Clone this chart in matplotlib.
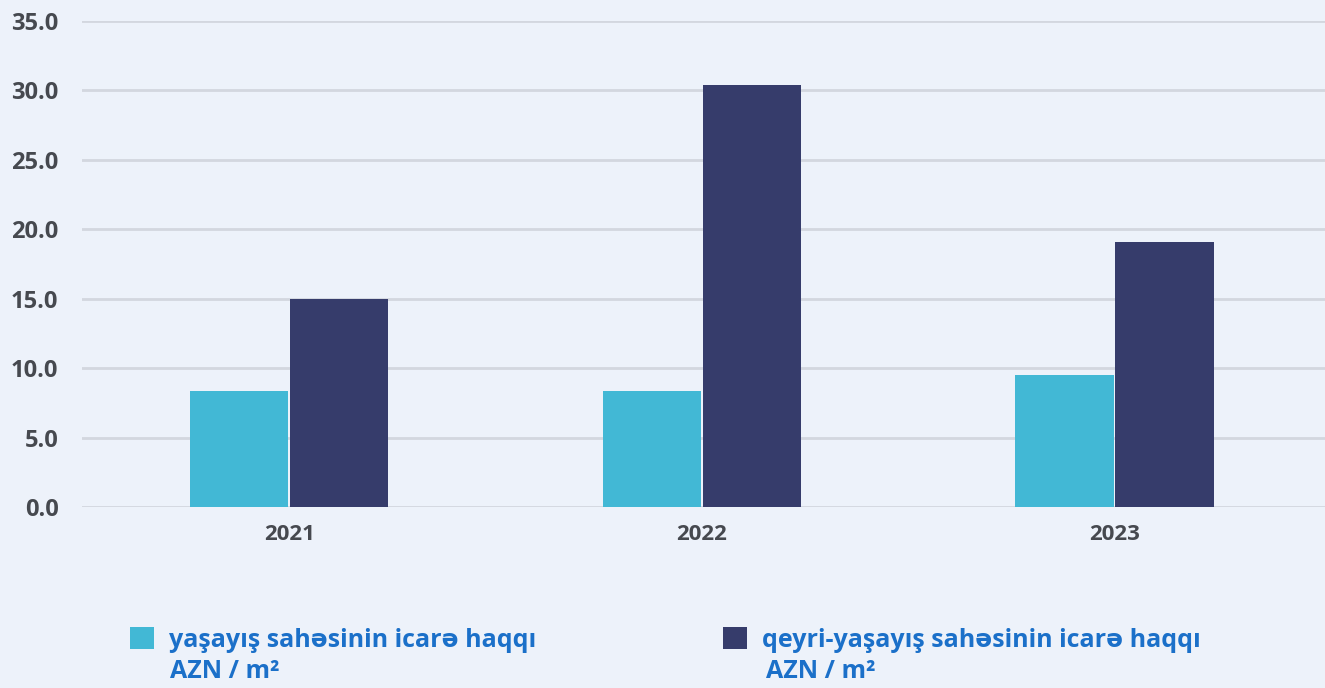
import matplotlib.pyplot as plt
import numpy as np

# data
years = ['2021', '2022', '2023']
residential = [8.35, 8.35, 9.5]
non_residential = [14.95, 30.4, 19.1]
yticks = [0, 5, 10, 15, 20, 25, 30, 35]
label_res = 'yaşayış sahəsinin icarə haqqı'
label_nonres = 'qeyri-yaşayış sahəsinin icarə haqqı'
unit = 'AZN / m²'

bg = '#edf2fa'
cyan = '#42b8d5'
navy = '#363c6b'
tick_col = '#46494f'
legend_col = '#1b70c9'

plt.rcParams['font.family'] = ['Open Sans', 'DejaVu Sans']

fig = plt.figure(figsize=(13.25, 6.88), dpi=100, facecolor=bg)
ax = fig.add_axes((82 / 1325, 1 - 507 / 688, 1 - 82 / 1325, (507 - 21) / 688))
ax.set_facecolor(bg)

x = np.arange(len(years))
w = 0.238
b1 = ax.bar(x - w / 2 - 0.002, residential, w, color=cyan, zorder=3)
b2 = ax.bar(x + w / 2 + 0.002, non_residential, w, color=navy, zorder=3)

ax.set_xlim(-0.502, 2.51)
ax.set_ylim(0, 35)
ax.set_yticks(yticks)
ax.set_yticklabels(['%.1f' % v for v in yticks])
ax.set_xticks(x)
ax.set_xticklabels(years)
ax.grid(axis='y', color='#d3d7df', linewidth=2, zorder=0)
for s in ax.spines.values():
    s.set_visible(False)
ax.tick_params(axis='both', length=0, colors=tick_col)
ax.tick_params(axis='y', pad=17, labelsize=17)
ax.tick_params(axis='x', pad=12, labelsize=16)
for t in ax.get_xticklabels() + ax.get_yticklabels():
    t.set_fontweight('bold')

# legends: one per series, second line of each label drawn as text
fs = 18
for handle, lab, lx, ux in [(b1, label_res, 130, 170), (b2, label_nonres, 723, 766)]:
    leg = fig.legend([handle], [lab], loc='upper left',
                     bbox_to_anchor=(lx / 1325, 1 - 627 / 688),
                     frameon=False, borderpad=0, borderaxespad=0,
                     handlelength=0.97, handleheight=0.97, handletextpad=0.6,
                     prop={'size': fs, 'weight': 'bold'})
    for t in leg.get_texts():
        t.set_color(legend_col)
    fig.text(ux / 1325, 1 - 672 / 688, unit, fontsize=fs, fontweight='bold',
             color=legend_col, ha='left', va='center')

fig.savefig('out.png', dpi=100, facecolor=bg)
